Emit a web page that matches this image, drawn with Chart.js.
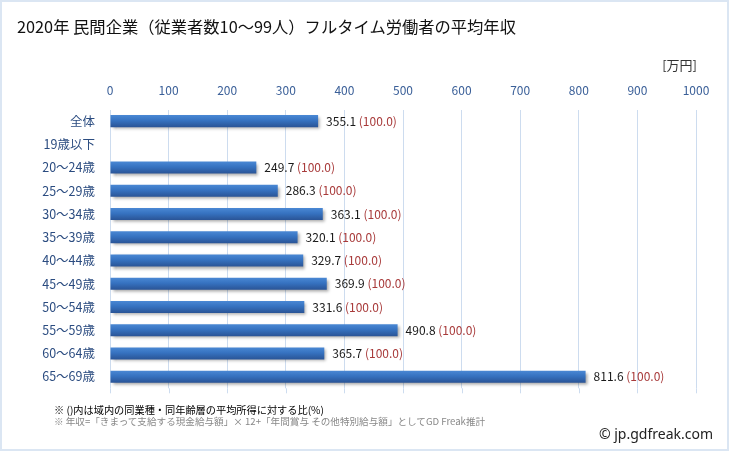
<!DOCTYPE html>
<html lang="ja">
<head>
<meta charset="utf-8">
<script src="https://cdn.jsdelivr.net/npm/chart.js@4"></script>
<style>
  html, body { margin: 0; padding: 0; background: #fff; }
  #wrap { position: relative; width: 729px; height: 451px; overflow: hidden; font-family: "Noto Sans CJK JP", "Noto Sans", sans-serif; }
  #frame { position: absolute; left: 0; top: 0; width: 729px; height: 451px; box-sizing: border-box; border: 2px solid #dbe6f3; pointer-events: none; }
  canvas { position: absolute; left: 0; top: 0; }
  .t { position: absolute; white-space: nowrap; line-height: 1; }
  #title { left: 17px; top: 18px; font-size: 16.3px; color: #111; }
  #unit { right: 32px; top: 58px; font-size: 13px; color: #333; }
  #note1 { left: 54px; top: 405px; font-size: 10.2px; color: #000; }
  #note2 { left: 54px; top: 417px; font-size: 9.6px; color: #888; }
  #copy { right: 16px; top: 427px; font-size: 14px; color: #222; font-family: "Noto Sans", sans-serif; }
</style>
</head>
<body>
<div id="wrap">
  <canvas id="c" width="729" height="451"></canvas>
  <div class="t" id="title">2020年 民間企業（従業者数10～99人）フルタイム労働者の平均年収</div>
  <div class="t" id="unit">[万円]</div>
  <div class="t" id="note1">※ ()内は域内の同業種・同年齢層の平均所得に対する比(%)</div>
  <div class="t" id="note2">※ 年収=「きまって支給する現金給与額」× 12+「年間賞与 その他特別給与額」としてGD Freak推計</div>
  <div class="t" id="copy">© jp.gdfreak.com</div>
  <div id="frame"></div>
</div>
<script>
const categories = ["全体", "19歳以下", "20～24歳", "25～29歳", "30～34歳", "35～39歳", "40～44歳", "45～49歳", "50～54歳", "55～59歳", "60～64歳", "65～69歳"];
const salaries = [355.1, null, 249.7, 286.3, 363.1, 320.1, 329.7, 369.9, 331.6, 490.8, 365.7, 811.6];
const ratios = [100.0, null, 100.0, 100.0, 100.0, 100.0, 100.0, 100.0, 100.0, 100.0, 100.0, 100.0];
const xTicks = [0, 100, 200, 300, 400, 500, 600, 700, 800, 900, 1000];

const shadowPlugin = {
  id: 'barShadow',
  beforeDatasetDraw(chart) {
    const ctx = chart.ctx;
    ctx.save();
    ctx.shadowColor = 'rgba(0,0,0,0.35)';
    ctx.shadowBlur = 3;
    ctx.shadowOffsetX = 2;
    ctx.shadowOffsetY = 2;
  },
  afterDatasetDraw(chart) {
    chart.ctx.restore();
  }
};

const gridExtend = {
  id: 'gridExtend',
  beforeDatasetsDraw(chart) {
    const ctx = chart.ctx;
    const xs = chart.scales.x;
    const b = chart.chartArea.bottom;
    ctx.save();
    ctx.strokeStyle = '#cddcef';
    ctx.lineWidth = 1;
    xTicks.forEach(v => {
      const px = Math.round(xs.getPixelForValue(v)) + 0.5;
      ctx.beginPath();
      ctx.moveTo(px, b);
      ctx.lineTo(px, b + 5);
      ctx.stroke();
    });
    ctx.restore();
  }
};

const labelPlugin = {
  id: 'barLabels',
  afterDatasetsDraw(chart) {
    const ctx = chart.ctx;
    const meta = chart.getDatasetMeta(0);
    ctx.save();
    ctx.font = '12px "Noto Sans CJK JP", "Noto Sans", sans-serif';
    ctx.textBaseline = 'middle';
    ctx.textAlign = 'left';
    meta.data.forEach((bar, i) => {
      if (salaries[i] === null) return;
      const x = bar.x + 8;
      const y = bar.y;
      const v = salaries[i].toFixed(1);
      ctx.fillStyle = '#1a1a1a';
      ctx.fillText(v, x, y);
      const w = ctx.measureText(v + ' ').width;
      ctx.fillStyle = '#a83a3a';
      ctx.fillText('(' + ratios[i].toFixed(1) + ')', x + w, y);
    });
    ctx.restore();
  }
};

new Chart(document.getElementById('c'), {
  type: 'bar',
  data: {
    labels: categories,
    datasets: [{
      data: salaries,
      backgroundColor: (c) => {
        const chart = c.chart;
        const ys = chart.scales && chart.scales.y;
        if (!ys || typeof c.dataIndex !== 'number') return '#3468b4';
        const yc = ys.getPixelForValue(c.dataIndex);
        if (!isFinite(yc)) return '#3468b4';
        const g = chart.ctx.createLinearGradient(0, yc - 6, 0, yc + 6);
        g.addColorStop(0, '#4a88d4');
        g.addColorStop(0.45, '#3672c0');
        g.addColorStop(1, '#2a5496');
        return g;
      },
      borderWidth: 0,
      categoryPercentage: 1.0,
      barPercentage: 0.52
    }]
  },
  options: {
    indexAxis: 'y',
    responsive: false,
    animation: false,
    layout: { padding: { left: 0, right: 33, top: 0, bottom: 62.7 } },
    plugins: { legend: { display: false }, tooltip: { enabled: false }, title: { display: false } },
    scales: {
      x: {
        position: 'top',
        min: 0,
        max: 1000,
        afterBuildTicks: (s) => { s.ticks = xTicks.map(v => ({ value: v })); },
        afterFit: (s) => { s.height = 109.5; },
        grid: { color: '#cddcef', lineWidth: 1, drawTicks: false },
        border: { display: false },
        ticks: { color: '#3a5f98', font: { size: 12, family: '"Noto Sans CJK JP", "Noto Sans", sans-serif' }, padding: 12, maxRotation: 0, callback: (v) => String(v) }
      },
      y: {
        afterFit: (s) => { s.width = 110; },
        grid: { display: false, drawTicks: false },
        border: { display: false },
        ticks: { color: '#2b4c80', font: { size: 12.5, family: '"Noto Sans CJK JP", "Noto Sans", sans-serif' }, padding: 15 }
      }
    }
  },
  plugins: [gridExtend, shadowPlugin, labelPlugin]
});
</script>
</body>
</html>
